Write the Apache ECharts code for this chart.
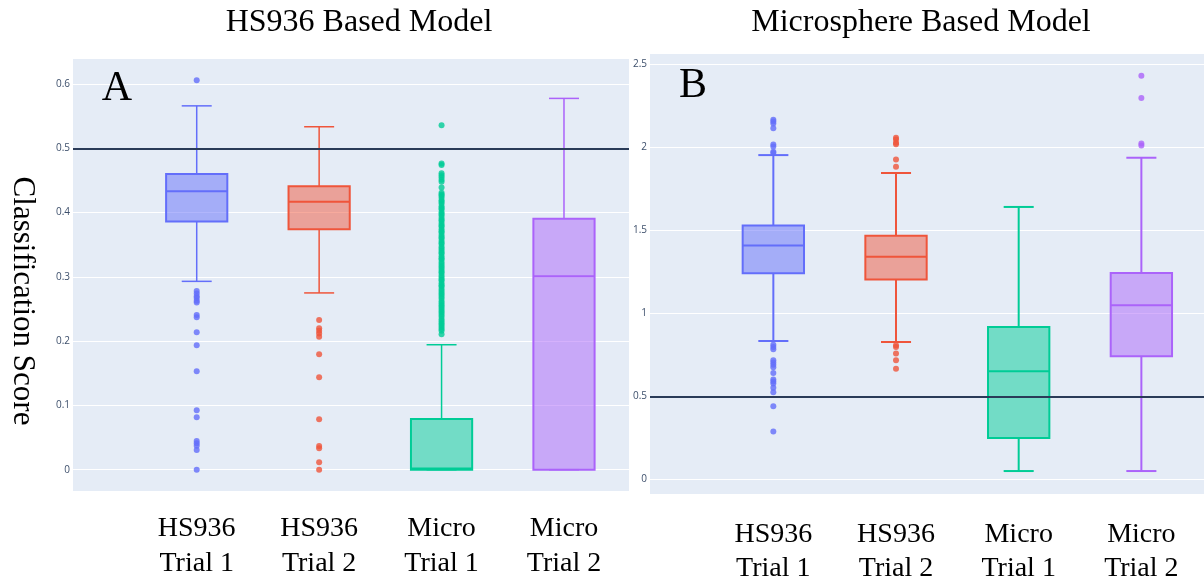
<!DOCTYPE html>
<html>
<head>
<meta charset="utf-8">
<script src="https://cdn.jsdelivr.net/npm/echarts@6/dist/echarts.min.js"></script>
<style>
html,body{margin:0;padding:0;background:#fff;}
#chart{width:1204px;height:586px;}
</style>
</head>
<body>
<div id="chart"></div>
<script>
// ---------------- data ----------------
const categories = ['HS936\nTrial 1', 'HS936\nTrial 2', 'Micro\nTrial 1', 'Micro\nTrial 2'];
const panelTitles = ['HS936 Based Model', 'Microsphere Based Model'];
const panelLetters = ['A', 'B'];
const yAxisTitle = 'Classification Score';
const threshold = 0.5;

// y-axis ticks (min, max, interval)
const hsTicks = [0, 0.6, 0.1];
const msTicks = [0, 2.5, 0.5];

// boxes: [lower whisker, Q1, median, Q3, upper whisker]
const hsBox = [
  [0.293, 0.386, 0.433, 0.460, 0.566],
  [0.275, 0.374, 0.417, 0.441, 0.5335],
  [0.000, 0.000, 0.002, 0.079, 0.1944],
  [0.000, 0.000, 0.3008, 0.3904, 0.5776]
];
const hsOutliersT1 = [0.606, 0.278, 0.274, 0.270, 0.267, 0.263, 0.260, 0.2406, 0.237, 0.2137, 0.1935, 0.153, 0.0923, 0.0815, 0.0446, 0.041, 0.0374, 0.0306, 0];
const hsOutliersT2 = [0.2328, 0.220, 0.216, 0.212, 0.207, 0.1795, 0.1437, 0.0784, 0.0368, 0.0333, 0.0115, 0];
const hsOutliersM1 = [0.536, 0.4765, 0.474, 0.461, 0.458, 0.455, 0.451, 0.448, 0.439,
  0.431, 0.428, 0.426, 0.423, 0.419, 0.417, 0.414, 0.410, 0.407, 0.405, 0.401, 0.398,
  0.396, 0.392, 0.389, 0.387, 0.383, 0.380, 0.378, 0.374, 0.371, 0.369, 0.365, 0.362,
  0.360, 0.356, 0.353, 0.351, 0.347, 0.344, 0.341, 0.338, 0.336, 0.332, 0.329, 0.327,
  0.323, 0.320, 0.317, 0.314, 0.311, 0.308, 0.306, 0.302, 0.299, 0.296, 0.294, 0.290,
  0.287, 0.285, 0.281, 0.278, 0.275, 0.272, 0.269, 0.266, 0.262, 0.259, 0.256, 0.253,
  0.250, 0.247, 0.244, 0.241, 0.238, 0.234, 0.231, 0.228, 0.225, 0.222, 0.219, 0.216, 0.2106];
const hsOutliersM2 = [];

const msBox = [
  [0.827, 1.236, 1.404, 1.524, 1.949],
  [0.821, 1.198, 1.336, 1.462, 1.841],
  [0.042, 0.242, 0.645, 0.911, 1.636],
  [0.042, 0.735, 1.043, 1.238, 1.933]
];
const msOutliersT1 = [2.163, 2.151, 2.139, 2.111, 2.013, 2.001, 1.969, 1.961, 0.805, 0.791, 0.777, 0.711, 0.697, 0.683, 0.669, 0.633, 0.595, 0.583, 0.571, 0.545, 0.517, 0.433, 0.280];
const msOutliersT2 = [2.053, 2.043, 2.023, 2.015, 1.923, 1.879, 0.801, 0.791, 0.751, 0.711, 0.659];
const msOutliersM1 = [];
const msOutliersM2 = [2.428, 2.293, 2.019, 2.007];

// ---------------- style ----------------
const colors = ['#636efa', '#EF553B', '#00cc96', '#ab63fa'];
const fills = ['rgba(99,110,250,0.5)', 'rgba(239,85,59,0.5)', 'rgba(0,204,150,0.5)', 'rgba(171,99,250,0.5)'];
const serif = 'Liberation Serif, Times New Roman, serif';
const bg = '#E5ECF6';
const tickColor = '#3d4f6b';

function boxRender(whiskerWidth) {
  return function (params, api) {
    const i = api.value(0);
    const c = colors[i];
    const pts = [1, 2, 3, 4, 5].map(k => api.coord([i, api.value(k)]));
    const cx = pts[0][0];
    const band = api.size([1, 0])[0];
    const hw = band * 0.25;
    const cw = band * 0.1225;
    const yMin = pts[0][1], yQ1 = pts[1][1], yMed = pts[2][1], yQ3 = pts[3][1], yMax = pts[4][1];
    const ls = (x1, y1, x2, y2, w) => ({type: 'line', shape: {x1, y1, x2, y2}, style: {stroke: c, lineWidth: w}});
    return {
      type: 'group',
      children: [
        ls(cx, yQ3, cx, yMax, whiskerWidth),
        ls(cx, yQ1, cx, yMin, whiskerWidth),
        ls(cx - cw, yMax, cx + cw, yMax, whiskerWidth),
        ls(cx - cw, yMin, cx + cw, yMin, whiskerWidth),
        {type: 'rect', shape: {x: cx - hw, y: yQ3, width: 2 * hw, height: yQ1 - yQ3},
          style: {fill: fills[i], stroke: c, lineWidth: 2}},
        ls(cx - hw, yMed, cx + hw, yMed, 2)
      ]
    };
  };
}

function outlierData(lists) {
  const out = [];
  lists.forEach((arr, i) => arr.forEach(v => out.push({value: [i, v], itemStyle: {color: colors[i]}})));
  return out;
}

const chart = echarts.init(document.getElementById('chart'), null, {renderer: 'canvas'});

const hidden = {show: false};
const option = {
  animation: false,
  backgroundColor: '#ffffff',
  grid: [
    {left: 73, top: 59, width: 556, height: 432, show: true, backgroundColor: bg, borderWidth: 0},
    {left: 73, top: 84, width: 556, height: 385.7},
    {left: 135.5, top: 84, width: 489.7, height: 385.7},
    {left: 650, top: 54, width: 554, height: 440, show: true, backgroundColor: bg, borderWidth: 0},
    {left: 650, top: 63.8, width: 554, height: 415.7},
    {left: 712, top: 63.8, width: 490.7, height: 415.7}
  ],
  xAxis: [
    {gridIndex: 0, type: 'value', show: false},
    {gridIndex: 1, type: 'value', min: 0, max: 1, show: false},
    {gridIndex: 2, type: 'category', data: categories,
      axisLine: hidden, axisTick: hidden, splitLine: hidden,
      axisLabel: {margin: 41, fontFamily: serif, fontSize: 28, lineHeight: 35, color: '#000'}},
    {gridIndex: 3, type: 'value', show: false},
    {gridIndex: 4, type: 'value', min: 0, max: 1, show: false},
    {gridIndex: 5, type: 'category', data: categories,
      axisLine: hidden, axisTick: hidden, splitLine: hidden,
      axisLabel: {margin: 40, fontFamily: serif, fontSize: 28, lineHeight: 34, color: '#000'}}
  ],
  yAxis: [
    {gridIndex: 0, type: 'value', show: false},
    {gridIndex: 1, type: 'value', min: hsTicks[0], max: hsTicks[1], interval: hsTicks[2],
      axisLine: hidden, axisTick: hidden,
      axisLabel: {margin: 3, fontFamily: 'Open Sans', fontSize: 10, color: tickColor},
      splitLine: {show: true, lineStyle: {color: '#ffffff', width: 1}}},
    {gridIndex: 2, type: 'value', min: hsTicks[0], max: hsTicks[1], show: false},
    {gridIndex: 3, type: 'value', show: false},
    {gridIndex: 4, type: 'value', min: msTicks[0], max: msTicks[1], interval: msTicks[2],
      axisLine: hidden, axisTick: hidden,
      axisLabel: {margin: 3, fontFamily: 'Open Sans', fontSize: 10, color: tickColor},
      splitLine: {show: true, lineStyle: {color: '#ffffff', width: 1}}},
    {gridIndex: 5, type: 'value', min: msTicks[0], max: msTicks[1], show: false}
  ],
  series: [
    {type: 'custom', xAxisIndex: 2, yAxisIndex: 2, z: 3,
      renderItem: boxRender(1.5), encode: {x: 0, y: [1, 2, 3, 4, 5]},
      data: hsBox.map((b, i) => [i].concat(b))},
    {type: 'scatter', xAxisIndex: 2, yAxisIndex: 2, z: 4, clip: false, symbolSize: 6,
      data: outlierData([hsOutliersT1, hsOutliersT2, hsOutliersM1, hsOutliersM2])},
    {type: 'custom', xAxisIndex: 5, yAxisIndex: 5, z: 3,
      renderItem: boxRender(2), encode: {x: 0, y: [1, 2, 3, 4, 5]},
      data: msBox.map((b, i) => [i].concat(b))},
    {type: 'scatter', xAxisIndex: 5, yAxisIndex: 5, z: 4, clip: false, symbolSize: 6,
      data: outlierData([msOutliersT1, msOutliersT2, msOutliersM1, msOutliersM2])},
    {type: 'scatter', xAxisIndex: 1, yAxisIndex: 1, z: 10, data: [],
      markLine: {silent: true, symbol: ['none', 'none'], label: {show: false},
        lineStyle: {color: '#2a3b58', width: 2, type: 'solid'}, data: [{yAxis: threshold}]}},
    {type: 'scatter', xAxisIndex: 4, yAxisIndex: 4, z: 10, data: [],
      markLine: {silent: true, symbol: ['none', 'none'], label: {show: false},
        lineStyle: {color: '#2a3b58', width: 2, type: 'solid'}, data: [{yAxis: threshold}]}}
  ],
  graphic: [
    {type: 'text', x: 359, y: 23, style: {text: panelTitles[0], font: '32px ' + serif, fill: '#000', textAlign: 'center', textVerticalAlign: 'middle'}},
    {type: 'text', x: 921, y: 23, style: {text: panelTitles[1], font: '32px ' + serif, fill: '#000', textAlign: 'center', textVerticalAlign: 'middle'}},
    {type: 'text', x: 22, y: 301, rotation: -Math.PI / 2, style: {text: yAxisTitle, font: '31px ' + serif, fill: '#000', textAlign: 'center', textVerticalAlign: 'middle'}},
    {type: 'text', x: 117, y: 89, z: 20, style: {text: panelLetters[0], font: '42px ' + serif, fill: '#000', textAlign: 'center', textVerticalAlign: 'middle'}},
    {type: 'text', x: 693, y: 86, z: 20, style: {text: panelLetters[1], font: '42px ' + serif, fill: '#000', textAlign: 'center', textVerticalAlign: 'middle'}}
  ]
};
chart.setOption(option);
</script>
</body>
</html>
